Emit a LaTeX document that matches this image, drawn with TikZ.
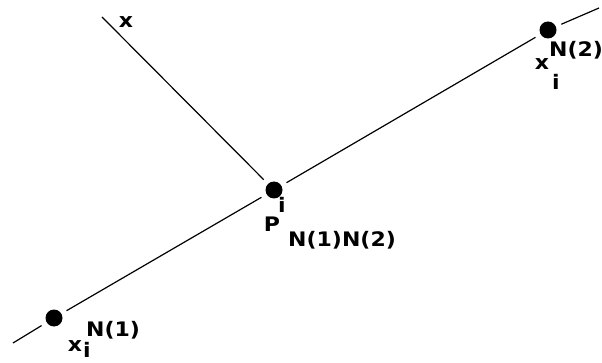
\documentclass[tikz,border=0pt]{standalone}
\usepackage{fontspec}
\newfontfamily\nhanfont{DejaVu Sans}[FakeStretch=1.1]
\usetikzlibrary{calc}

\begin{document}
\begin{tikzpicture}[x=1pt, y=-1pt,
    diem/.style={circle, fill=black, inner sep=0pt, minimum size=17pt, outer sep=6pt},
    nhan/.style={inner sep=0pt, font=\nhanfont\bfseries\fontsize{20}{22}\selectfont},
    duong/.style={line width=1.2pt}]
    \useasboundingbox (0,0) rectangle (602,363);
    % Các điểm
    \node[diem] (xa) at (54,318) {};
    \node[diem] (p) at (274,190) {};
    \node[diem] (xb) at (548,30) {};
    \coordinate (dau) at (13,343);
    \coordinate (cuoi) at (599,8);
    \coordinate (xtren) at (102,17);
    % Đường thẳng và đoạn vuông góc
    \draw[duong] (dau) -- (xa);
    \draw[duong] (xa) -- (p);
    \draw[duong] (p) -- (xb);
    \draw[duong] (xb) -- (cuoi);
    \draw[duong] (xtren) -- (p);
    % Nhãn
    \node[nhan, anchor=base] (lx) at (126,28) {x};
    \node[nhan, anchor=base] (xa-x) at (75,351) {x};
    \node[nhan, anchor=base] (xa-i) at (87,357) {i};
    \node[nhan, anchor=base west] (xa-n) at (86,336) {N(1)};
    \node[nhan, anchor=base] (p-p) at (272,232) {P};
    \node[nhan, anchor=base] (p-i) at (282,213) {i};
    \node[nhan, anchor=base west] (p-n) at (288,247) {N(1)N(2)};
    \node[nhan, anchor=base] (xb-x) at (542,70) {x};
    \node[nhan, anchor=base] (xb-i) at (556,90) {i};
    \node[nhan, anchor=base west] (xb-n) at (549,57) {N(2)};
\end{tikzpicture}
\end{document}
